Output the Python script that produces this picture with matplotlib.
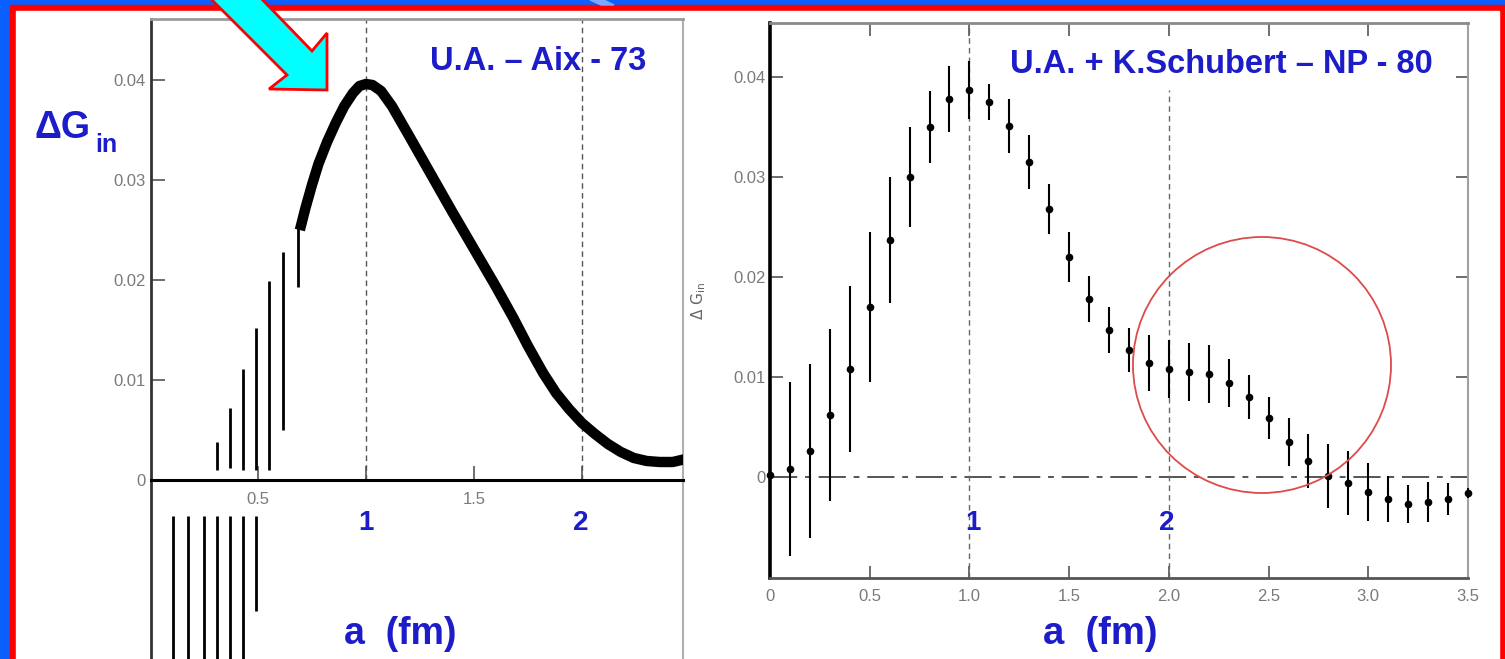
import numpy as np
import matplotlib
matplotlib.use("Agg")
import matplotlib.pyplot as plt
from matplotlib.patches import Rectangle, Polygon, Ellipse

plt.rcParams['font.family'] = ['Liberation Sans', 'DejaVu Sans']
plt.rcParams['mathtext.fontset'] = 'dejavusans'

W, H = 1505, 659
BLUE_TXT = '#1c1cc8'
GRAY_TXT = '#7a7a7a'

# left panel: thick curve (Aix 73)
curve_a = [0.70, 0.72, 0.75, 0.78, 0.82, 0.86, 0.90, 0.94, 0.97, 1.00, 1.03, 1.07, 1.12,
           1.20, 1.30, 1.40, 1.50, 1.60, 1.68, 1.75, 1.82, 1.88, 1.94, 2.00, 2.06, 2.12,
           2.18, 2.24, 2.30, 2.36, 2.42, 2.46]
curve_g = [0.0255, 0.0272, 0.0295, 0.0316, 0.0338, 0.0357, 0.0374, 0.0387, 0.0394, 0.0396,
           0.0395, 0.0389, 0.0374, 0.0344, 0.0306, 0.0268, 0.0231, 0.0194, 0.0163, 0.0134,
           0.0107, 0.0087, 0.0071, 0.0057, 0.0046, 0.0036, 0.0028, 0.0022, 0.0019, 0.0018,
           0.0018, 0.0020]

# left panel: vertical bars above zero
up_a = [0.31, 0.37, 0.43, 0.49, 0.55, 0.616, 0.685]
up_lo = [0.0010, 0.0012, 0.0010, 0.0010, 0.0010, 0.0050, 0.0193]
up_hi = [0.0038, 0.0072, 0.0111, 0.0152, 0.0199, 0.0228, 0.0252]

# left panel: vertical bars below zero (running off the bottom)
dn_a = [0.106, 0.176, 0.25, 0.31, 0.37, 0.43, 0.49]
dn_lo = [-0.03, -0.03, -0.03, -0.03, -0.03, -0.03, -0.0131]
dn_hi = [-0.0036, -0.0036, -0.0036, -0.0036, -0.0036, -0.0036, -0.0036]

# right panel: data points (NP 80)
pts_a = [0.0, 0.1, 0.2, 0.3, 0.4, 0.5, 0.6, 0.7, 0.8, 0.9, 1.0, 1.1, 1.2, 1.3, 1.4, 1.5,
         1.6, 1.7, 1.8, 1.9, 2.0, 2.1, 2.2, 2.3, 2.4, 2.5, 2.6, 2.7, 2.8, 2.9, 3.0, 3.1,
         3.2, 3.3, 3.4, 3.5]
pts_g = [0.0002, 0.0008, 0.0026, 0.0062, 0.0108, 0.0170, 0.0237, 0.0300, 0.0350, 0.0378,
         0.0387, 0.0375, 0.0351, 0.0315, 0.0268, 0.0220, 0.0178, 0.0147, 0.0127, 0.0114,
         0.0108, 0.0105, 0.0103, 0.0094, 0.0080, 0.0059, 0.0035, 0.0016, 0.0001, -0.0006,
         -0.0015, -0.0022, -0.0027, -0.0025, -0.0022, -0.0016]
pts_err = [0.0085, 0.0087, 0.0087, 0.0086, 0.0083, 0.0075, 0.0063, 0.0050, 0.0036, 0.0033,
           0.0029, 0.0018, 0.0027, 0.0027, 0.0025, 0.0025, 0.0023, 0.0023, 0.0022, 0.0028,
           0.0029, 0.0029, 0.0029, 0.0024, 0.0022, 0.0021, 0.0024, 0.0027, 0.0032, 0.0032,
           0.0029, 0.0023, 0.0019, 0.0020, 0.0016, 0.0005]

left_yticks = [0, 0.01, 0.02, 0.03, 0.04]
left_ylabels = ['0', '0.01', '0.02', '0.03', '0.04']
right_xticks = [0, 0.5, 1.0, 1.5, 2.0, 2.5, 3.0, 3.5]
right_xlabels = ['0', '0.5', '1.0', '1.5', '2.0', '2.5', '3.0', '3.5']


def fx(px):
    return px / W


def fy(py):
    return 1 - py / H


fig = plt.figure(figsize=(W / 100, H / 100), dpi=100)
fig.patch.set_facecolor('#0a5fff')
fig.add_artist(Rectangle((fx(10), 0), 1, fy(5), transform=fig.transFigure,
                         color='#ff0000', zorder=-2))
fig.add_artist(Rectangle((fx(16), 0), fx(1499) - fx(16), fy(11), transform=fig.transFigure,
                         color='white', zorder=-1))
fig.add_artist(Polygon([(fx(590), fy(0)), (fx(604), fy(0)), (fx(614), fy(5)), (fx(601), fy(5))],
                       closed=True, transform=fig.transFigure, color='#7fa6ff', zorder=-1.5))

# ---------- left panel ----------
ax1 = fig.add_axes([fx(151), 0, fx(683) - fx(151), fy(19)])
ax1.set_xlim(0.005, (683 - 150) / 216)
ax1.set_ylim((480 - 659) / 10000, (480 - 19) / 10000)
ax1.set_facecolor('white')
ax1.spines['bottom'].set_position(('data', 0))
ax1.spines['bottom'].set_color('black')
ax1.spines['bottom'].set_linewidth(2.2)
ax1.spines['left'].set_color('#333333')
ax1.spines['left'].set_linewidth(2)
ax1.spines['top'].set_color('#9a9a9a')
ax1.spines['top'].set_linewidth(2)
ax1.spines['right'].set_color('#b0b0b0')
ax1.spines['right'].set_linewidth(1.5)

ax1.plot(curve_a, curve_g, color='black', lw=7.5, solid_joinstyle='round', zorder=3)
ax1.vlines(up_a, up_lo, up_hi, color='black', lw=2)
ax1.vlines(dn_a, dn_lo, dn_hi, color='black', lw=2)
ax1.vlines([1, 2], 0, 0.046, colors='#555555', lw=1, linestyles=(0, (4, 3)))

ax1.set_yticks(left_yticks)
ax1.set_yticklabels(left_ylabels)
ax1.set_xticks([0.5, 1, 1.5, 2])
ax1.set_xticklabels(['0.5', '', '1.5', ''])
ax1.tick_params(axis='both', direction='in', length=10, width=1.2, color='#555555',
                labelcolor=GRAY_TXT, labelsize=12)
ax1.tick_params(axis='y', pad=4)
ax1.tick_params(axis='x', pad=9)

# ---------- right panel ----------
ax2 = fig.add_axes([fx(770), fy(578), fx(1468) - fx(770), fy(23) - fy(578)])
ax2.set_xlim(0, 3.5)
ax2.set_ylim((477 - 578) / 10000, (477 - 23) / 10000)
ax2.set_facecolor('white')
ax2.spines['left'].set_color('black')
ax2.spines['left'].set_linewidth(2.6)
ax2.spines['bottom'].set_color('#555555')
ax2.spines['bottom'].set_linewidth(2)
ax2.spines['top'].set_color('#8a8a8a')
ax2.spines['top'].set_linewidth(2)
ax2.spines['right'].set_color('#a0a0a0')
ax2.spines['right'].set_linewidth(1.5)

ax2.axhline(0, color='#555555', lw=1.4, dashes=(14, 4, 3, 4))
ax2.vlines(1, -0.0101, 0.0454, colors='#666666', lw=1, linestyles=(0, (4, 3)))
ax2.vlines(2, -0.0101, 0.0387, colors='#666666', lw=1, linestyles=(0, (4, 3)))
ax2.errorbar(pts_a, pts_g, yerr=pts_err, fmt='o', ms=4.5, color='black',
             elinewidth=1.5, capsize=0, clip_on=False, zorder=4)

ax2.add_patch(Ellipse((2.467, 0.0112), width=258 / 199.4, height=0.0256, fill=False,
                      edgecolor='#dd4b4b', lw=1.3, zorder=5))

ax2.set_xticks(right_xticks)
ax2.set_xticklabels(right_xlabels)
ax2.set_yticks(left_yticks)
ax2.set_yticklabels(left_ylabels)
ax2.tick_params(axis='both', direction='in', length=9, width=1.2, color='#555555',
                labelcolor=GRAY_TXT, labelsize=12, top=True, right=True)
ax2.tick_params(axis='x', pad=8)
ax2.tick_params(axis='y', pad=3)

# ---------- annotation texts ----------
bold = dict(color=BLUE_TXT, fontweight='bold')
fig.text(fx(430), fy(70), 'U.A. \u2013 Aix - 73', fontsize=23.5, va='baseline', **bold)
fig.text(fx(1010), fy(73), 'U.A. + K.Schubert \u2013 NP - 80', fontsize=23.5, va='baseline', **bold)
fig.text(fx(34), fy(138), '\u0394G', fontsize=27, va='baseline', **bold)
fig.text(fx(95), fy(152), 'in', fontsize=18, va='baseline', **bold)
fig.text(fx(344), fy(644), 'a  (fm)', fontsize=27, va='baseline', **bold)
fig.text(fx(1043), fy(644), 'a  (fm)', fontsize=27.5, va='baseline', **bold)
for px, s in [(366, '1'), (581, '2'), (973, '1'), (1167, '2')]:
    fig.text(fx(px), fy(530), s, fontsize=20, ha='center', va='baseline', **bold)
fig.text(fx(699), fy(301), r'$\Delta\ \mathrm{G}_{\rm in}$', fontsize=11, color='#666666',
         rotation=90, ha='center', va='center')

# cyan arrow pointing at the peak
arrow_px = [(202, -10), (253, -10), (312, 51), (327, 33), (327, 90), (269, 89), (287, 75)]
fig.add_artist(Polygon([(fx(x), fy(y)) for x, y in arrow_px], closed=True,
                       transform=fig.transFigure, facecolor='#00ffff', edgecolor='#ff0000',
                       lw=2, joinstyle='miter', zorder=6))

fig.savefig('out.png', dpi=100, facecolor=fig.get_facecolor())
